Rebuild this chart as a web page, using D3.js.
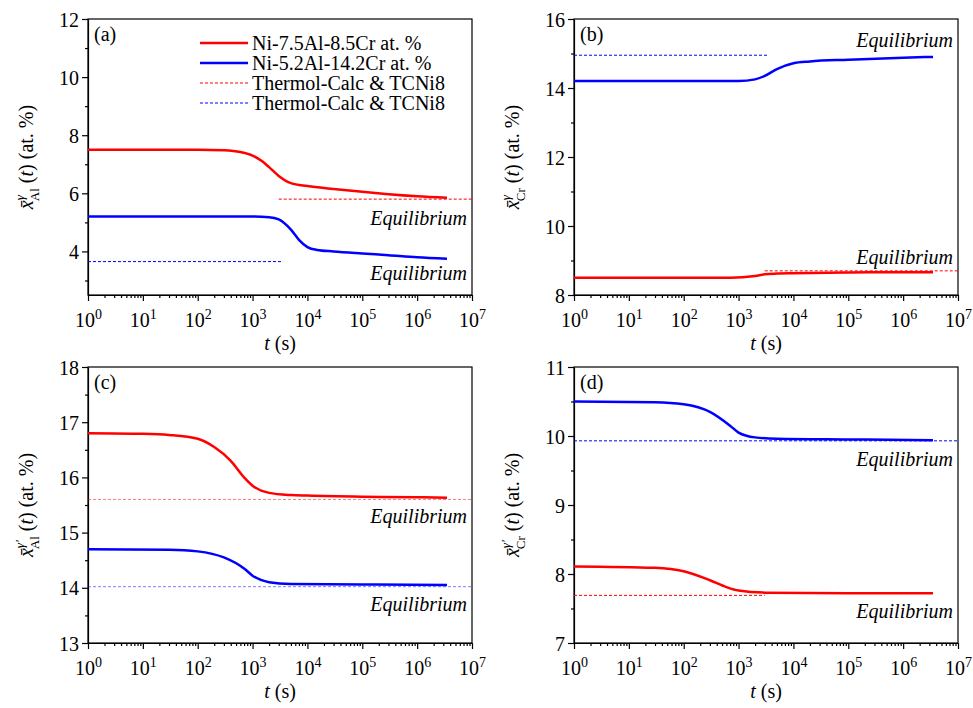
<!DOCTYPE html>
<meta charset="utf-8">
<style>
body { margin: 0; background: #fff; }
text { font-family: "Liberation Serif", "Times New Roman", serif; fill: #000; }
.axis path, .axis line { stroke: #000; stroke-width: 1.2px; }
.frame { fill: none; stroke: #000; stroke-width: 1.2px; }
</style>
<body>
<script src="https://d3js.org/d3.v7.min.js"></script>
<script>

var width = 973,
    height = 708,
    pw = 384,
    ph = 276;

// panel (a): gamma Al
var aRedT  = [1, 10, 100, 300, 600, 1000, 1500, 2000, 3000, 5000, 1e4, 3e4, 1e5, 3e5, 1e6, 3.5e6],
    aRedV  = [7.5, 7.5, 7.5, 7.48, 7.42, 7.3, 7.1, 6.9, 6.6, 6.35, 6.25, 6.15, 6.05, 5.97, 5.9, 5.85],
    aBlueT = [1, 10, 100, 1000, 2000, 3000, 5000, 7000, 1e4, 1.5e4, 3e4, 1e5, 3e5, 1e6, 3.5e6],
    aBlueV = [5.2, 5.2, 5.2, 5.2, 5.18, 5.1, 4.75, 4.4, 4.15, 4.05, 4.0, 3.93, 3.87, 3.8, 3.75],
    aRedEq  = [[3000, 1e7], 5.8],
    aBlueEq = [[1, 3500], 3.65];

// panel (b): gamma Cr
var bBlueT = [1, 10, 100, 1000, 2000, 3000, 5000, 1e4, 2e4, 1e5, 1e6, 3.5e6],
    bBlueV = [14.2, 14.2, 14.2, 14.2, 14.25, 14.35, 14.55, 14.72, 14.77, 14.82, 14.88, 14.9],
    bRedT  = [1, 10, 100, 700, 2000, 3000, 5000, 1e4, 1e5, 1e6, 3.5e6],
    bRedV  = [8.5, 8.5, 8.5, 8.5, 8.55, 8.6, 8.62, 8.63, 8.65, 8.66, 8.66],
    bBlueEq = [[1, 3500], 14.95],
    bRedEq  = [[3000, 1e7], 8.7];

// panel (c): gamma' Al
var cRedT  = [1, 10, 30, 100, 200, 400, 700, 1000, 2000, 5000, 1e4, 1e5, 1e6, 3.5e6],
    cRedV  = [16.8, 16.79, 16.77, 16.7, 16.55, 16.3, 16.0, 15.85, 15.72, 15.68, 15.67, 15.65, 15.64, 15.63],
    cBlueT = [1, 30, 100, 300, 700, 1000, 2000, 5000, 1e5, 3.5e6],
    cBlueV = [14.7, 14.69, 14.66, 14.55, 14.35, 14.22, 14.1, 14.07, 14.06, 14.05],
    cRedEq  = [[1, 1e7], 15.6],
    cBlueEq = [[1, 1e7], 14.02];

// panel (d): gamma' Cr
var dBlueT = [1, 30, 100, 300, 700, 1000, 2000, 5000, 1e5, 3.5e6],
    dBlueV = [10.5, 10.49, 10.46, 10.35, 10.15, 10.05, 9.98, 9.96, 9.95, 9.94],
    dRedT  = [1, 30, 100, 300, 600, 1000, 3000, 1e5, 3.5e6],
    dRedV  = [8.11, 8.09, 8.04, 7.91, 7.81, 7.76, 7.73, 7.72, 7.72],
    dBlueEq = [[1, 1e7], 9.93],
    dRedEq  = [[1, 3000], 7.69];

var xTicks = [1, 10, 100, 1e3, 1e4, 1e5, 1e6, 1e7];
var legendLabels = ["Ni-7.5Al-8.5Cr at. %", "Ni-5.2Al-14.2Cr at. %", "Thermol-Calc & TCNi8", "Thermol-Calc & TCNi8"];

var panels = [
  {tag: "(a)", left: 88,  top: 19,  dom: [2.5, 12], ticks: [4, 6, 8, 10, 12], minor: [3, 5, 7, 9, 11],
   phase: "γ", el: "Al",
   lines: [[aRedT, aRedV, "red"], [aBlueT, aBlueV, "blue"]],
   eq: [[aRedEq, "red"], [aBlueEq, "blue"]],
   eqText: [5.15, 3.25], dashOpacity: 1},
  {tag: "(b)", left: 574, top: 19,  dom: [8, 16], ticks: [8, 10, 12, 14, 16], minor: [9, 11, 13, 15],
   phase: "γ", el: "Cr",
   lines: [[bBlueT, bBlueV, "blue"], [bRedT, bRedV, "red"]],
   eq: [[bBlueEq, "blue"], [bRedEq, "red"]],
   eqText: [15.4, 9.1], dashOpacity: 1},
  {tag: "(c)", left: 88,  top: 367, dom: [13, 18], ticks: [13, 14, 15, 16, 17, 18], minor: [13.5, 14.5, 15.5, 16.5, 17.5],
   phase: "γ'", el: "Al",
   lines: [[cRedT, cRedV, "red"], [cBlueT, cBlueV, "blue"]],
   eq: [[cRedEq, "red"], [cBlueEq, "blue"]],
   eqText: [15.3, 13.7], dashOpacity: 0.5},
  {tag: "(d)", left: 574, top: 367, dom: [7, 11], ticks: [7, 8, 9, 10, 11], minor: [7.5, 8.5, 9.5, 10.5],
   phase: "γ'", el: "Cr",
   lines: [[dBlueT, dBlueV, "blue"], [dRedT, dRedV, "red"]],
   eq: [[dBlueEq, "blue"], [dRedEq, "red"]],
   eqText: [9.67, 7.47], dashOpacity: 1}
];

var colors = {red: "#ff0000", blue: "#0000ff"};

var svg = d3.select("body").append("svg")
    .attr("width", width)
    .attr("height", height);

panels.forEach(function(p) {
  var g = svg.append("g").attr("transform", "translate(" + p.left + "," + p.top + ")");

  var x = d3.scaleLog().domain([1, 1e7]).range([0, pw]);
  var y = d3.scaleLinear().domain(p.dom).range([ph, 0]);

  // minor ticks
  var xMinor = [];
  for (var k = 0; k < 7; k++) for (var m = 2; m < 10; m++) xMinor.push(m * Math.pow(10, k));

  g.append("g").attr("class", "axis")
      .attr("transform", "translate(0," + ph + ")")
      .call(d3.axisBottom(x).tickValues(xMinor).tickSize(3).tickFormat(""))
      .select(".domain").remove();
  g.append("g").attr("class", "axis")
      .call(d3.axisLeft(y).tickValues(p.minor).tickSize(3).tickFormat(""))
      .select(".domain").remove();

  var xa = g.append("g").attr("class", "axis")
      .attr("transform", "translate(0," + ph + ")")
      .call(d3.axisBottom(x).tickValues(xTicks).tickSize(6).tickSizeOuter(0).tickFormat(""));
  xa.selectAll(".tick").append("text")
      .attr("y", 32)
      .attr("text-anchor", "middle")
      .style("font-size", "20px")
      .each(function(d) {
        var t = d3.select(this);
        t.append("tspan").text("10");
        t.append("tspan").attr("dy", -8).style("font-size", "14px").text(Math.round(Math.log10(d)));
      });

  var ya = g.append("g").attr("class", "axis")
      .call(d3.axisLeft(y).tickValues(p.ticks).tickSize(6).tickSizeOuter(0).tickFormat(""));
  ya.selectAll(".tick").append("text")
      .attr("x", -9)
      .attr("dy", "0.35em")
      .attr("text-anchor", "end")
      .style("font-size", "20px")
      .text(function(d) { return d; });

  g.append("rect").attr("class", "frame").attr("width", pw).attr("height", ph);

  var clip = "clip" + p.tag.replace(/\W/g, "");
  g.append("clipPath").attr("id", clip).append("rect").attr("width", pw).attr("height", ph);
  var plot = g.append("g").attr("clip-path", "url(#" + clip + ")");

  // equilibrium dashed lines
  p.eq.forEach(function(e) {
    plot.append("line")
        .attr("x1", x(e[0][0][0])).attr("x2", x(e[0][0][1]))
        .attr("y1", y(e[0][1])).attr("y2", y(e[0][1]))
        .attr("stroke", colors[e[1]])
        .attr("stroke-opacity", p.dashOpacity)
        .attr("stroke-width", 1)
        .attr("stroke-dasharray", "3,2");
  });

  var line = d3.line()
      .x(function(d) { return x(d[0]); })
      .y(function(d) { return y(d[1]); })
      .curve(d3.curveMonotoneX);

  p.lines.forEach(function(s) {
    plot.append("path")
        .datum(d3.zip(s[0], s[1]))
        .attr("fill", "none")
        .attr("stroke", colors[s[2]])
        .attr("stroke-width", 2.5)
        .attr("d", line);
  });

  p.eqText.forEach(function(v) {
    g.append("text")
        .attr("x", pw - 5)
        .attr("y", y(v))
        .attr("dy", "0.35em")
        .attr("text-anchor", "end")
        .style("font-size", "20px")
        .style("font-style", "italic")
        .text("Equilibrium");
  });

  g.append("text")
      .attr("x", 6).attr("y", 22)
      .style("font-size", "20px")
      .text(p.tag);

  // x title
  var xt = g.append("text")
      .attr("x", pw / 2).attr("y", ph + 55)
      .attr("text-anchor", "middle")
      .style("font-size", "20px");
  xt.append("tspan").style("font-style", "italic").text("t");
  xt.append("tspan").text(" (s)");

  // y title
  var yt = g.append("text")
      .attr("transform", "translate(-55," + (ph / 2) + ") rotate(-90)")
      .attr("text-anchor", "middle")
      .style("font-size", "20px");
  yt.append("tspan").style("font-style", "italic").text("x\u0304");
  yt.append("tspan").attr("dy", -9).style("font-size", "13px").style("font-style", "italic").text(p.phase);
  yt.append("tspan").attr("dx", p.phase.length > 1 ? -9 : -6).attr("dy", 15).style("font-size", "13px").text(p.el);
  yt.append("tspan").attr("dy", -6).text(" (");
  yt.append("tspan").style("font-style", "italic").text("t");
  yt.append("tspan").text(") (at. %)");

  // legend in panel (a)
  if (p.tag === "(a)") {
    var lg = g.append("g").attr("transform", "translate(112,24)");
    legendLabels.forEach(function(lab, i) {
      var row = lg.append("g").attr("transform", "translate(0," + (i * 20) + ")");
      row.append("line")
          .attr("x1", 0).attr("x2", 48)
          .attr("stroke", i % 2 === 0 ? colors.red : colors.blue)
          .attr("stroke-width", i < 2 ? 2.5 : 1)
          .attr("stroke-dasharray", i < 2 ? null : "3,2");
      row.append("text")
          .attr("x", 52).attr("dy", "0.35em")
          .style("font-size", "20px")
          .text(lab);
    });
  }
});

</script>
</body>
